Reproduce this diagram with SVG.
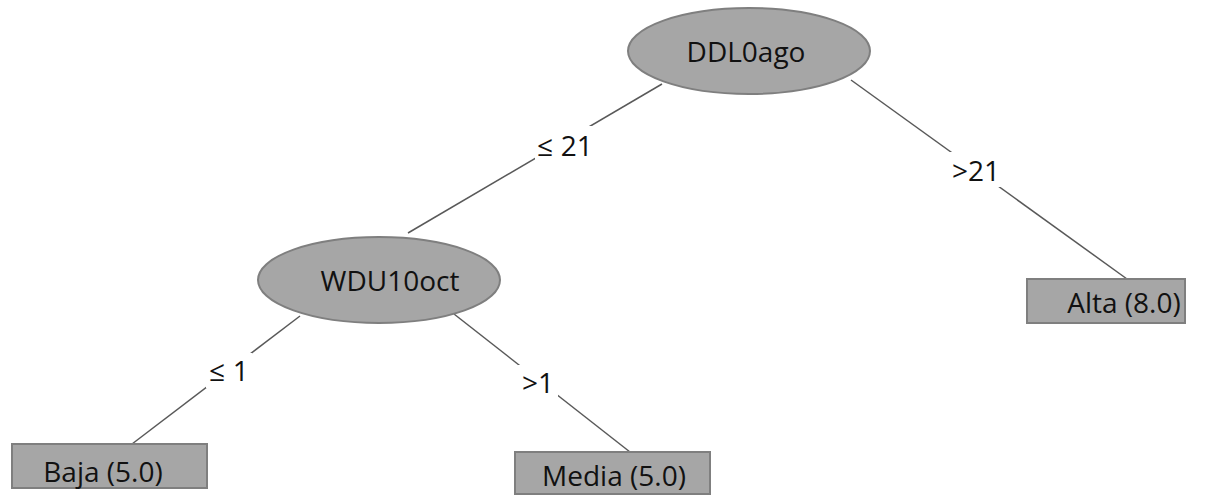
<svg xmlns="http://www.w3.org/2000/svg" width="1212" height="495" viewBox="0 0 1212 495">
<style>
.n{fill:#a6a6a6;stroke:#7f7f7f;stroke-width:2}
.t{font-family:"Open Sans","Liberation Sans",sans-serif;font-size:28px;fill:#111;text-anchor:middle}
.e{stroke:#595959;stroke-width:1.5;fill:none}
.lb{fill:#fff}
</style>
<rect width="1212" height="495" fill="#fff"/>
<g id="connectors">
<line class="e" x1="662" y1="84" x2="408" y2="233"/>
<line class="e" x1="851" y1="80" x2="1127" y2="279"/>
<line class="e" x1="300" y1="316" x2="132" y2="444"/>
<line class="e" x1="454" y1="314" x2="630" y2="452"/>
<rect class="lb" x="535" y="126" width="61" height="37"/>
<text class="t" x="565" y="156">≤ 21</text>
<rect class="lb" x="949" y="152" width="55" height="35"/>
<text class="t" x="976" y="181">&gt;21</text>
<rect class="lb" x="206" y="353" width="46" height="35"/>
<text class="t" x="229" y="381">≤ 1</text>
<rect class="lb" x="518" y="365" width="40" height="33"/>
<text class="t" x="538" y="393">&gt;1</text>
</g>
<g id="DDL0ago">
<ellipse class="n" cx="749" cy="51" rx="121" ry="43"/>
<text class="t" x="746" y="62">DDL0ago</text>
</g>
<g id="WDU10oct">
<ellipse class="n" cx="379" cy="280" rx="121" ry="43"/>
<text class="t" x="390" y="291">WDU10oct</text>
</g>
<g id="Baja">
<rect class="n" x="12" y="444" width="195" height="44"/>
<text class="t" x="103" y="482">Baja (5.0)</text>
</g>
<g id="Media">
<rect class="n" x="515" y="452" width="195" height="42"/>
<text class="t" x="614" y="486">Media (5.0)</text>
</g>
<g id="Alta">
<rect class="n" x="1027" y="279" width="158" height="44"/>
<text class="t" x="1124" y="313">Alta (8.0)</text>
</g>
</svg>
